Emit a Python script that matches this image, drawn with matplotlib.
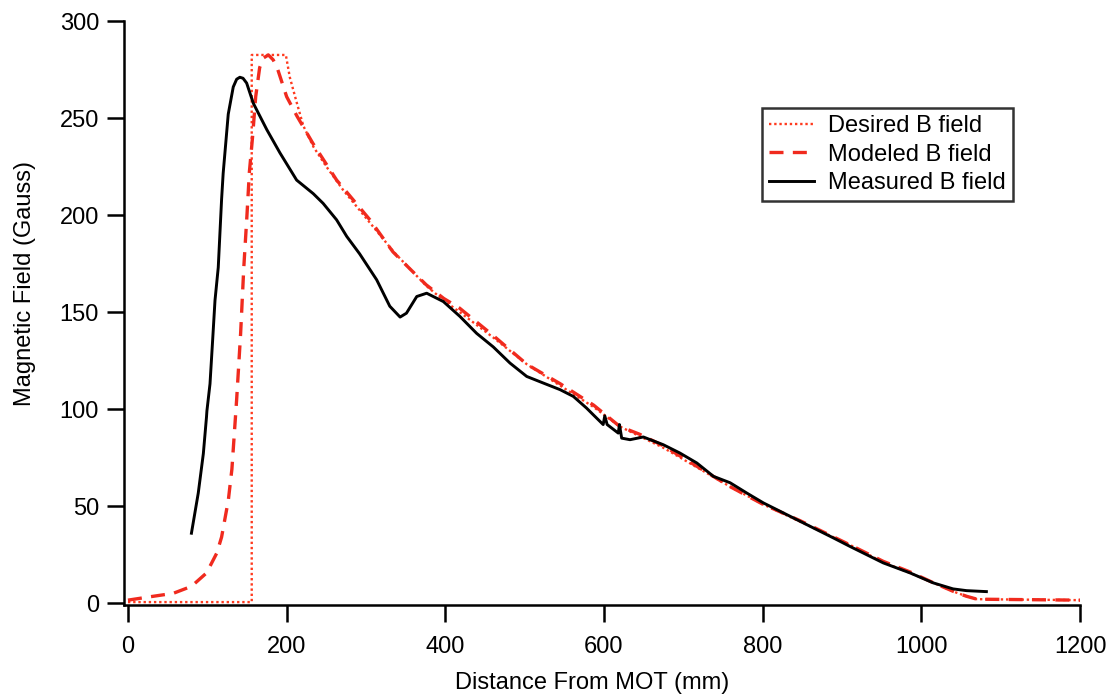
import matplotlib
matplotlib.use("Agg")
import matplotlib.pyplot as plt

plt.rcParams['font.family'] = ['Liberation Sans', 'DejaVu Sans']

# Desired B field
desired_x = [0, 156, 156, 199, 204, 212, 221, 234, 250, 271, 305, 335, 356, 376, 398, 418,
             460, 503, 545, 587, 620, 645, 675, 717, 759, 800, 847, 910, 952, 986, 1015,
             1040, 1057, 1070, 1200]
desired_y = [0.5, 0.5, 282.5, 282.5, 271, 259, 246, 235, 225, 213, 196, 181, 172, 163.5, 156, 150,
             137, 123, 112, 101, 91, 86, 80, 70, 60, 51, 42, 30, 21, 15.5, 10.5,
             6, 3.5, 2, 1.5]

# Modeled B field
modeled_x = [0, 32, 57, 80, 99, 112, 118, 126.5, 131, 137, 142, 146, 150, 153, 157, 161, 166,
             171, 177, 183, 188, 200, 213, 233, 263, 305, 334, 356, 376, 398, 418, 460, 503,
             545, 587, 620, 645, 675, 717, 759, 800, 847, 910, 952, 986, 1015, 1045, 1057,
             1070, 1200]
modeled_y = [1.5, 3.5, 5, 8.6, 15.5, 25.8, 34, 53, 69, 105, 139, 173, 200, 222, 240, 261, 276,
             281, 282.5, 280, 276, 261, 251, 237, 218, 197.5, 181, 172, 164, 157, 152, 138, 123,
             113, 102, 91, 87, 81, 70.5, 60, 51, 42.5, 30, 21.5, 16, 10.5, 5.2, 3.5,
             2, 1.5]

# Measured B field
measured_x = [80, 88.6, 95, 99, 99.5, 103.4, 106.8, 109.7, 113.8, 118, 120, 126.4, 132.7, 137, 141,
              145, 149.6, 158, 175, 191.6, 212.6, 233.6, 246, 263, 275.7, 292, 313.5, 330, 343, 351,
              364, 376.5, 397.5, 418.5, 439.5, 460.5, 481.5, 502.6, 523.5, 544.6, 561.4, 578,
              586.6, 599, 601, 604, 618, 619.5, 622.3, 632.8, 649.6, 674.8, 695.8, 717, 738,
              759, 780, 801, 822, 843, 864, 889, 910, 952, 986, 1015, 1040, 1057, 1082]
measured_y = [36, 56.7, 77, 96, 99, 113, 136, 156, 173, 208, 221.5, 252, 266, 270, 271,
              270.5, 268, 257.6, 244, 232, 218, 211, 206, 197.5, 189, 180, 166.6, 153, 147.4, 149.4,
              158, 159.7, 155.4, 147.7, 139, 132, 123.7, 116.8, 113.4, 110, 106.5, 100.5,
              97, 92, 96.5, 92, 87.6, 92, 85, 84.2, 85.6, 81.6, 77.3, 72.2, 65.3,
              62, 56.7, 51.6, 47.3, 43, 38.7, 33.6, 29.2, 20.7, 15.5, 10.4, 7.3, 6.4, 5.9]

x_ticks = [0, 200, 400, 600, 800, 1000, 1200]
y_ticks = [0, 50, 100, 150, 200, 250, 300]

fig = plt.figure(figsize=(11.12, 6.96), dpi=100)
ax = fig.add_axes([124 / 1112, 1 - 605 / 696, 956 / 1112, 584 / 696])

ax.plot(desired_x, desired_y, color='#ff3a1e', lw=1.7, linestyle=(0, (1, 1.2)),
        label='Desired B field', zorder=2)
ax.plot(modeled_x, modeled_y, color='#f02a1e', lw=2.4, linestyle=(0, (4.2, 2.8)),
        label='Modeled B field', zorder=3)
ax.plot(measured_x, measured_y, color='black', lw=2.1, label='Measured B field', zorder=4,
        solid_joinstyle='round')

ax.set_xlim(-5, 1200)
ax.set_ylim(-1, 300)
ax.set_xticks(x_ticks)
ax.set_yticks(y_ticks)
ax.spines['top'].set_visible(False)
ax.spines['right'].set_visible(False)
for s in ('left', 'bottom'):
    ax.spines[s].set_linewidth(1.8)
ax.tick_params(axis='both', direction='out', length=12, width=1.8, labelsize=17)
ax.tick_params(axis='x', pad=10)
ax.tick_params(axis='y', pad=6)

ax.set_xlabel('Distance From MOT (mm)', fontsize=17)
ax.set_ylabel('Magnetic Field (Gauss)', fontsize=17)
ax.xaxis.set_label_coords(0.49, -0.115)
ax.yaxis.set_label_coords(-0.092, 0.55)

leg = ax.legend(loc='upper left', bbox_to_anchor=(0.667, 0.851), borderaxespad=0,
                fontsize=17, handlelength=1.9, handletextpad=0.6, labelspacing=0.28,
                fancybox=False, frameon=True, borderpad=0.3)
leg.get_frame().set_edgecolor('black')
leg.get_frame().set_linewidth(1.8)

fig.savefig('out.png', dpi=100)
